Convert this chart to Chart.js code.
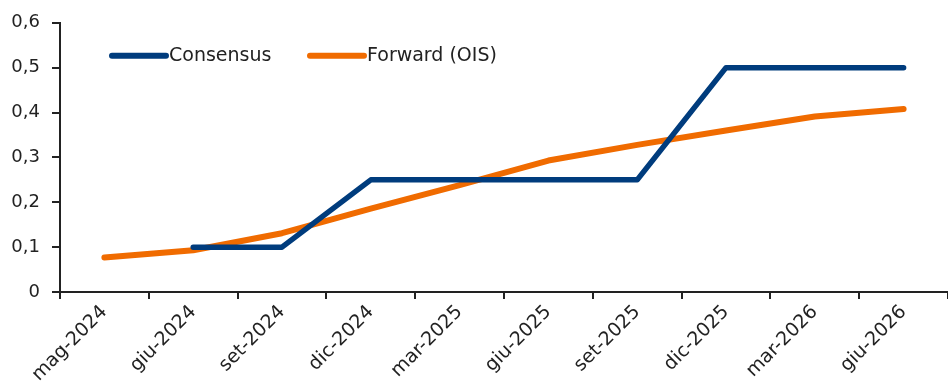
<!DOCTYPE html>
<html>
<head>
<meta charset="utf-8">
<script src="https://cdn.jsdelivr.net/npm/chart.js@4"></script>
<style>
  html, body { margin: 0; padding: 0; background: #fff; }
  #wrap { width: 948px; height: 389px; }
</style>
</head>
<body>
<div id="wrap"><canvas id="chart"></canvas></div>
<script>
const categories = ["mag-2024", "giu-2024", "set-2024", "dic-2024", "mar-2025",
  "giu-2025", "set-2025", "dic-2025", "mar-2026", "giu-2026"];
const consensus = [null, 0.10, 0.10, 0.25, 0.25, 0.25, 0.25, 0.50, 0.50, 0.50];
const forward = [0.077, 0.093, 0.131, 0.186, 0.238, 0.293, 0.328, 0.360, 0.391, 0.408];
const yTicks = [0, 0.1, 0.2, 0.3, 0.4, 0.5, 0.6];

const FONT = "'DejaVu Sans', sans-serif";
const BLUE = '#003c7d';
const ORANGE = '#f06b00';

// legenda dentro l'area del grafico, in alto a sinistra
const insideLegend = {
  id: 'insideLegend',
  afterDraw(chart) {
    const ctx = chart.ctx;
    const area = chart.chartArea;
    let x = area.left + 52;
    const y = area.top + 33;
    ctx.save();
    ctx.font = "19px " + FONT;
    ctx.textBaseline = 'middle';
    chart.data.datasets.forEach(ds => {
      ctx.strokeStyle = ds.borderColor;
      ctx.lineWidth = 6;
      ctx.lineCap = 'round';
      ctx.beginPath();
      ctx.moveTo(x, y);
      ctx.lineTo(x + 54, y);
      ctx.stroke();
      ctx.fillStyle = '#222';
      ctx.fillText(ds.label, x + 57, y);
      x += 198;
    });
    ctx.restore();
  }
};

new Chart(document.getElementById('chart'), {
  type: 'line',
  data: {
    labels: categories,
    datasets: [
      {
        label: 'Consensus',
        data: consensus,
        borderColor: BLUE,
        backgroundColor: BLUE,
        borderWidth: 5.5,
        borderCapStyle: 'round',
        borderJoinStyle: 'round',
        pointRadius: 0,
        tension: 0
      },
      {
        label: 'Forward (OIS)',
        data: forward,
        borderColor: ORANGE,
        backgroundColor: ORANGE,
        borderWidth: 6,
        borderCapStyle: 'round',
        borderJoinStyle: 'round',
        pointRadius: 0,
        tension: 0
      }
    ]
  },
  options: {
    responsive: true,
    maintainAspectRatio: false,
    animation: false,
    layout: { padding: { top: 22, right: 0, left: 0, bottom: 0 } },
    plugins: {
      legend: { display: false },
      tooltip: { enabled: false }
    },
    scales: {
      x: {
        offset: true,
        border: { display: true, color: '#222', width: 2 },
        grid: { display: true, drawOnChartArea: false, drawTicks: true, tickLength: 7, color: '#222', lineWidth: 2, offset: true },
        ticks: {
          color: '#222',
          font: { family: FONT, size: 19 },
          minRotation: 45,
          maxRotation: 45,
          autoSkip: false,
          padding: 2
        },
        afterFit(scale) { scale.height = 97; }
      },
      y: {
        min: 0,
        max: 0.6,
        afterBuildTicks(scale) { scale.ticks = yTicks.map(v => ({ value: v })); },
        border: { display: true, color: '#222', width: 2 },
        grid: { display: true, drawOnChartArea: false, drawTicks: true, tickLength: 8, color: '#222', lineWidth: 2 },
        ticks: {
          color: '#222',
          font: { family: FONT, size: 18 },
          padding: 12,
          callback: v => String(Math.round(v * 10) / 10).replace('.', ',')
        },
        afterFit(scale) { scale.width = 60; }
      }
    }
  },
  plugins: [insideLegend]
});
</script>
</body>
</html>
